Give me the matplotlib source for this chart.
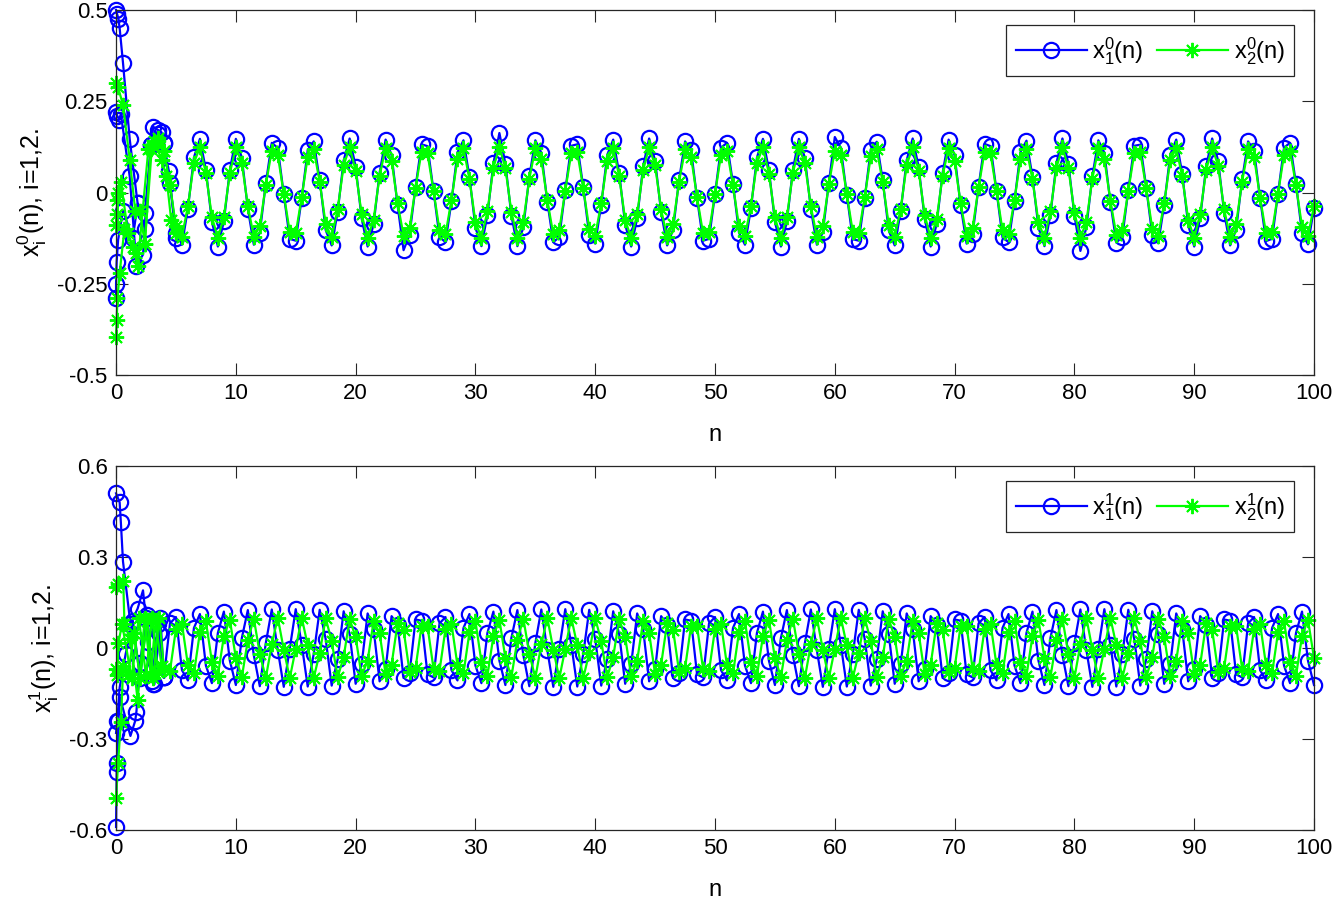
import numpy as np
import matplotlib
matplotlib.use("Agg")
import matplotlib.pyplot as plt

plt.rcParams["font.family"] = ["Liberation Sans", "DejaVu Sans"]
plt.rcParams["mathtext.fontset"] = "custom"
plt.rcParams["mathtext.rm"] = "Liberation Sans"
plt.rcParams["mathtext.it"] = "Liberation Sans"
plt.rcParams["mathtext.bf"] = "Liberation Sans:bold"

# ── settled part: n = 4.0, 4.5, ..., 100 ─────────────────────────────────────
n_steady = np.arange(8, 201) / 2.0

# upper panel, x_1^0(n)
x10_steady = [
    .136, .025, -.110, -.143, -.044, .096, .147, .062, -.080, -.148, -.079, .062, .147, .095, -.044, -.143, -.110, .025, .136, .122, -.005, -.127, -.132, -.015, .116,
    .140, .034, -.103, -.145, -.053, .088, .148, .071, -.071, -.148, -.087, .054, .145, .103, -.035, -.158, -.116, .015, .132, .127, .005, -.122, -.136, -.024, .110,
    .143, .043, -.096, -.147, -.062, .080, .163, .079, -.063, -.147, -.095, .044, .143, .109, -.025, -.136, -.122, .006, .128, .132, .014, -.117, -.140, -.034, .103,
    .145, .053, -.088, -.148, -.071, .072, .148, .087, -.054, -.145, -.102, .035, .140, .116, -.016, -.132, -.127, -.004, .123, .136, .024, -.110, -.143, -.043, .096,
    .147, .062, -.080, -.148, -.079, .063, .147, .095, -.045, -.143, -.109, .026, .152, .122, -.006, -.128, -.132, -.014, .117, .139, .033, -.104, -.145, -.052, .089,
    .148, .070, -.072, -.148, -.087, .054, .145, .102, -.035, -.140, -.115, .016, .133, .127, .004, -.123, -.136, -.023, .111, .142, .043, -.096, -.147, -.061, .081,
    .148, .079, -.063, -.160, -.095, .045, .143, .109, -.026, -.137, -.121, .006, .128, .131, .013, -.117, -.139, -.033, .104, .145, .052, -.089, -.148, -.070, .072,
    .148, .087, -.055, -.145, -.102, .036, .140, .115, -.016, -.133, -.127, -.003, .123, .136, .023, -.111, -.142, -.042,
]
# upper panel, x_2^0(n)
x20_steady = [
    .115, .021, -.093, -.121, -.037, .081, .124, .053, -.067, -.125, -.067, .053, .124, .081, -.037, -.121, -.093, .021, .115, .103, -.004, -.108, -.112, -.012, .098,
    .118, .029, -.087, -.123, -.045, .074, .125, .060, -.060, -.125, -.074, .045, .123, .087, -.029, -.118, -.098, .013, .112, .107, .004, -.103, -.115, -.020, .093,
    .121, .037, -.081, -.124, -.052, .068, .125, .067, -.053, -.124, -.080, .038, .121, .092, -.021, -.115, -.103, .005, .108, .111, .012, -.099, -.118, -.029, .087,
    .122, .044, -.075, -.125, -.060, .061, .125, .074, -.046, -.123, -.087, .030, .118, .098, -.013, -.112, -.107, -.004, .104, .115, .020, -.093, -.120, -.036, .081,
    .124, .052, -.068, -.125, -.067, .053, .124, .080, -.038, -.121, -.092, .022, .115, .103, -.005, -.108, -.111, -.012, .099, .118, .028, -.088, -.122, -.044, .075,
    .125, .059, -.061, -.125, -.073, .046, .123, .086, -.030, -.118, -.098, .014, .112, .107, .003, -.104, -.115, -.020, .093, .120, .036, -.082, -.124, -.052, .068,
    .125, .066, -.054, -.124, -.080, .038, .121, .092, -.022, -.116, -.102, .005, .108, .111, .011, -.099, -.118, -.028, .088, .122, .044, -.075, -.125, -.059, .061,
    .125, .073, -.046, -.123, -.086, .030, .119, .097, -.014, -.112, -.107, -.003, .104, .115, .020, -.094, -.120, -.036,
]
# lower panel, x_1^1(n)
x11_steady = [
    -.097, .081, .102, -.073, -.107, .066, .112, -.058, -.116, .050, .120, -.042, -.122, .033, .125, -.024,
    -.126, .016, .127, -.007, -.128, -.002, .128, .011, -.127, -.020, .126, .029, -.124, -.037, .121, .046,
    -.118, -.054, .114, .062, -.110, -.070, .105, .077, -.099, -.084, .094, .090, -.087, -.097, .081, .102,
    -.073, -.107, .066, .112, -.058, -.116, .050, .120, -.042, -.122, .033, .125, -.024, -.126, .016, .127,
    -.007, -.128, -.002, .128, .011, -.127, -.020, .126, .029, -.124, -.037, .121, .046, -.118, -.054, .114,
    .062, -.110, -.070, .105, .077, -.099, -.084, .094, .090, -.087, -.097, .081, .102, -.073, -.107, .066,
    .112, -.058, -.116, .050, .120, -.042, -.122, .033, .125, -.024, -.126, .016, .127, -.007, -.128, -.002,
    .128, .011, -.127, -.020, .126, .029, -.124, -.037, .121, .046, -.118, -.054, .114, .062, -.110, -.070,
    .105, .077, -.099, -.084, .094, .090, -.087, -.097, .081, .102, -.073, -.107, .066, .112, -.058, -.116,
    .050, .120, -.042, -.122, .033, .125, -.024, -.126, .016, .127, -.007, -.128, -.002, .128, .011, -.127,
    -.020, .126, .029, -.124, -.037, .121, .046, -.118, -.054, .114, .062, -.110, -.070, .105, .077, -.099,
    -.084, .094, .090, -.087, -.097, .081, .102, -.073, -.107, .066, .112, -.058, -.116, .050, .120, -.042,
    -.122,
]
# lower panel, x_2^1(n)
x21_steady = [
    -.068, -.076, .063, .080, -.057, -.084, .052, .088, -.045, -.091, .039, .093, -.033, -.096, .026, .097,
    -.019, -.099, .012, .100, -.005, -.100, -.002, .100, .009, -.099, -.016, .098, .023, -.097, -.029, .095,
    .036, -.092, -.042, .089, .049, -.086, -.055, .082, .060, -.078, -.066, .073, .071, -.068, -.076, .063,
    .080, -.057, -.084, .052, .088, -.045, -.091, .039, .093, -.033, -.096, .026, .097, -.019, -.099, .012,
    .100, -.005, -.100, -.002, .100, .009, -.099, -.016, .098, .023, -.097, -.029, .095, .036, -.092, -.042,
    .089, .049, -.086, -.055, .082, .060, -.078, -.066, .073, .071, -.068, -.076, .063, .080, -.057, -.084,
    .052, .088, -.045, -.091, .039, .093, -.033, -.096, .026, .097, -.019, -.099, .012, .100, -.005, -.100,
    -.002, .100, .009, -.099, -.016, .098, .023, -.097, -.029, .095, .036, -.092, -.042, .089, .049, -.086,
    -.055, .082, .060, -.078, -.066, .073, .071, -.068, -.076, .063, .080, -.057, -.084, .052, .088, -.045,
    -.091, .039, .093, -.033, -.096, .026, .097, -.019, -.099, .012, .100, -.005, -.100, -.002, .100, .009,
    -.099, -.016, .098, .023, -.097, -.029, .095, .036, -.092, -.042, .089, .049, -.086, -.055, .082, .060,
    -.078, -.066, .073, .071, -.068, -.076, .063, .080, -.057, -.084, .052, .088, -.045, -.091, .039, .093,
    -.033,
]

# ── transients (first few n), one main start plus the other starts ──────────
x10_start_n = [0.0, 0.08, 0.2, 0.3, 0.58, 1.14, 1.8, 2.4, 2.9, 3.5]
x10_start   = [0.50, 0.49, 0.475, 0.45, 0.355, 0.146, -0.03, -0.10, 0.13, 0.17]
x10_other = [
    ([0.0, 0.1, 0.25, 0.4, 1.14, 1.7, 2.25, 2.9, 3.5, 4.0],
     [0.22, 0.21, 0.20, 0.215, 0.044, -0.20, -0.17, 0.13, 0.16, 0.136]),
    ([0.0, 0.0, 0.05, 0.17, 0.58, 1.4, 1.8, 2.4, 3.1, 3.8, 4.4, 5.0],
     [-0.29, -0.25, -0.19, -0.13, -0.05, -0.125, -0.03, -0.055, 0.18, 0.165, 0.06, -0.125]),
]
x20_start_n = [0.0, 0.15, 0.58, 1.14, 1.6, 2.0, 2.4, 2.9, 3.5]
x20_start   = [0.30, 0.29, 0.24, 0.09, -0.05, -0.05, -0.14, 0.12, 0.14]
x20_other = [
    ([0.0, 0.05, 0.1, 0.2, 0.4, 1.0, 1.4, 1.8, 2.7, 3.2, 3.8, 4.2, 4.6, 5.0],
     [-0.09, -0.06, -0.02, 0.0, 0.03, -0.11, -0.15, -0.20, 0.12, 0.14, 0.09, 0.045, -0.075, -0.11]),
    ([0.0, 0.05, 0.12, 0.3, 0.7, 1.7, 2.4, 3.0, 3.5, 4.0],
     [-0.395, -0.35, -0.29, -0.22, -0.10, -0.165, -0.14, 0.13, 0.15, 0.115]),
]
x11_start_n = [0.0, 0.3, 0.4, 0.58, 1.2, 1.8, 2.25, 2.7, 3.2, 3.6]
x11_start   = [0.51, 0.48, 0.415, 0.285, 0.08, 0.13, 0.19, 0.02, -0.12, 0.05]
x11_other = [
    ([0.0, 0.05, 0.1, 0.2, 0.3, 1.2, 1.6, 1.7, 2.0, 2.5, 3.0, 3.5, 4.0],
     [-0.59, -0.41, -0.38, -0.24, -0.16, -0.29, -0.24, -0.21, -0.05, 0.10, -0.11, 0.08, -0.097]),
    ([0.0, 0.1, 0.3, 0.8, 1.4, 2.0, 2.6, 3.1, 3.7, 4.0],
     [-0.28, -0.24, -0.13, -0.02, 0.09, -0.10, 0.11, -0.12, 0.10, -0.097]),
]
x21_start_n = [0.0, 0.2, 0.6, 0.7, 1.2, 1.8, 2.4, 2.9, 3.3, 3.8]
x21_start   = [0.20, 0.21, 0.22, 0.08, 0.03, -0.17, 0.10, -0.09, 0.09, -0.06]
x21_other = [
    ([0.0, 0.17, 0.4, 0.6, 1.0, 1.5, 2.0, 2.6, 3.1, 3.6, 4.0],
     [-0.495, -0.38, -0.245, -0.06, -0.09, 0.05, -0.10, 0.09, -0.10, 0.10, -0.068]),
    ([0.0, 0.1, 0.2, 0.5, 1.3, 1.9, 2.5, 3.0, 3.5, 4.0],
     [-0.07, -0.09, 0.016, 0.08, -0.10, 0.10, -0.09, 0.10, -0.08, -0.068]),
]

BLUE = "#0000ff"
GREEN = "#00ff00"
sty1 = dict(color=BLUE, lw=1.6, marker="o", ms=11, mfc="none", mec=BLUE, mew=1.6, clip_on=False)
sty2 = dict(color=GREEN, lw=1.6, marker=(8, 2, 0), ms=11, mec=GREEN, mew=1.4, clip_on=False)

fig = plt.figure(figsize=(13.34, 9.0), dpi=100)
ax1 = fig.add_axes([0.087, 0.5833, 0.898, 0.4056])
ax2 = fig.add_axes([0.087, 0.0778, 0.898, 0.4044])

panels = [
    (ax1, x10_start_n, x10_start, x10_other, x10_steady,
          x20_start_n, x20_start, x20_other, x20_steady, "0",
          (-0.5, 0.5), [-0.5, -0.25, 0, 0.25, 0.5], ["-0.5", "-0.25", "0", "0.25", "0.5"]),
    (ax2, x11_start_n, x11_start, x11_other, x11_steady,
          x21_start_n, x21_start, x21_other, x21_steady, "1",
          (-0.6, 0.6), [-0.6, -0.3, 0, 0.3, 0.6], ["-0.6", "-0.3", "0", "0.3", "0.6"]),
]

for (ax, b_n, b_y, b_other, b_st, g_n, g_y, g_other, g_st, sup, ylim, yt, ytl) in panels:
    for on, oy in b_other:
        ax.plot(on, oy, **sty1)
    ax.plot(list(b_n) + list(n_steady), list(b_y) + list(b_st), **sty1,
            label=rf"x$_1^{sup}$(n)")
    for on, oy in g_other:
        ax.plot(on, oy, **sty2)
    ax.plot(list(g_n) + list(n_steady), list(g_y) + list(g_st), **sty2,
            label=rf"x$_2^{sup}$(n)")

    ax.set_xlim(0, 100)
    ax.set_ylim(*ylim)
    ax.set_xticks(np.arange(0, 101, 10))
    ax.set_yticks(yt)
    ax.set_yticklabels(ytl)
    ax.tick_params(direction="in", length=8.5, width=0.8, labelsize=16,
                   top=True, right=True, colors="#262626", labelcolor="black", pad=6)
    for sp in ax.spines.values():
        sp.set_linewidth(0.9)
        sp.set_color("#262626")
    ax.set_xlabel("n", fontsize=17, labelpad=14)
    ax.set_ylabel(rf"x$_\mathrm{{i}}^{sup}$(n), i=1,2.", fontsize=18, labelpad=6)
    leg = ax.legend(loc="upper right", ncol=2, fontsize=17, handlelength=3.0,
                    columnspacing=0.55, handletextpad=0.25, borderpad=0.4,
                    fancybox=False, framealpha=1, edgecolor="#262626",
                    bbox_to_anchor=(0.9935, 0.990))
    leg.get_frame().set_linewidth(0.9)

fig.savefig("out.png", dpi=100)
